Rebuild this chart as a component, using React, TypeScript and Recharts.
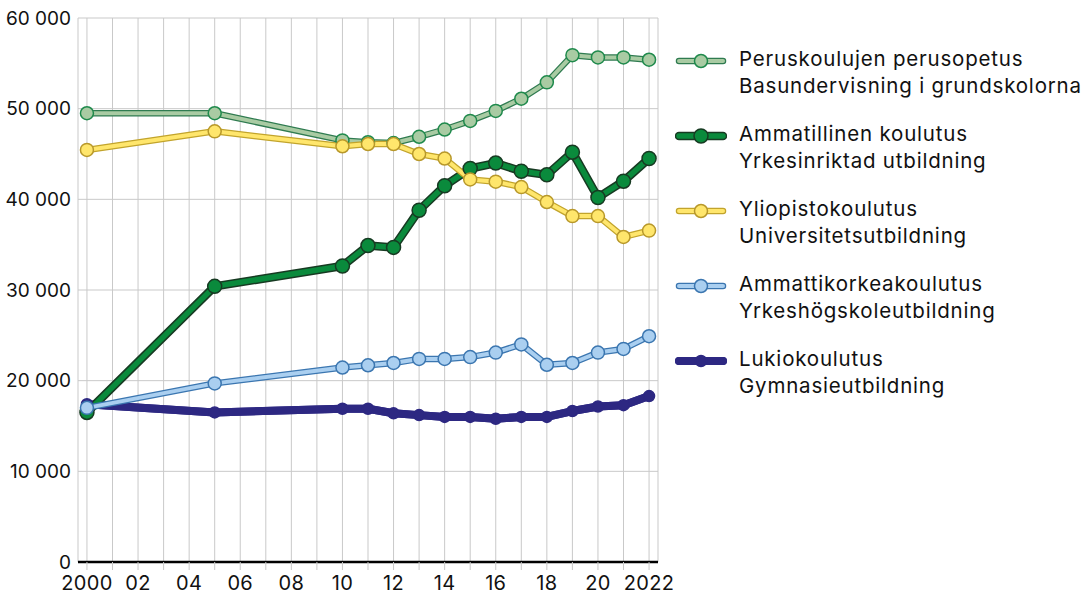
import { LineChart, Line, XAxis, YAxis, CartesianGrid } from 'recharts'

const years = [2000, 2005, 2010, 2011, 2012, 2013, 2014, 2015, 2016, 2017, 2018, 2019, 2020, 2021, 2022]

const perusopetus = [49500, 49500, 46500, 46300, 46200, 46900, 47700, 48650, 49750, 51100, 52900, 55900, 55650, 55650, 55400]
const ammatillinen = [16500, 30400, 32650, 34900, 34700, 38800, 41500, 43400, 44000, 43100, 42700, 45200, 40200, 42000, 44500]
const yliopisto = [45450, 47500, 45850, 46100, 46100, 45000, 44500, 42200, 41950, 41350, 39700, 38150, 38150, 35850, 36550]
const amk = [17000, 19700, 21450, 21700, 21950, 22400, 22400, 22600, 23100, 24000, 21750, 21950, 23100, 23500, 24900]
const lukio = [17400, 16500, 16900, 16900, 16400, 16200, 16000, 16000, 15800, 16000, 16000, 16650, 17150, 17300, 18300]

const yTicks = [0, 10000, 20000, 30000, 40000, 50000, 60000]
const xTicks = Array.from({ length: 23 }, (_, i) => 2000 + i)
const xLabels: Record<number, string> = {
  2000: '2000', 2002: '02', 2004: '04', 2006: '06', 2008: '08', 2010: '10',
  2012: '12', 2014: '14', 2016: '16', 2018: '18', 2020: '20', 2022: '2022',
}

const data = years.map((year, i) => ({
  year,
  perus: perusopetus[i],
  amm: ammatillinen[i],
  yo: yliopisto[i],
  amk: amk[i],
  lukio: lukio[i],
}))

const series = [
  { key: 'lukio', outer: '#2d2882', inner: '#2d2882', dotStroke: '#2d2882', outerW: 8, innerW: 8, r: 5.5,
    fi: 'Lukiokoulutus', sv: 'Gymnasieutbildning' },
  { key: 'amm', outer: '#173a22', inner: '#0a8a3c', dotStroke: '#173a22', outerW: 8.5, innerW: 5.5, r: 7,
    fi: 'Ammatillinen koulutus', sv: 'Yrkesinriktad utbildning' },
  { key: 'perus', outer: '#2f7b50', inner: '#a9cba3', dotStroke: '#1f8a4c', outerW: 6.5, innerW: 4, r: 6.5,
    fi: 'Peruskoulujen perusopetus', sv: 'Basundervisning i grundskolorna' },
  { key: 'yo', outer: '#c2a42c', inner: '#ffe66c', dotStroke: '#b8982a', outerW: 6.5, innerW: 4, r: 6.5,
    fi: 'Yliopistokoulutus', sv: 'Universitetsutbildning' },
  { key: 'amk', outer: '#3b76b0', inner: '#aacff0', dotStroke: '#3b76b0', outerW: 6.5, innerW: 4, r: 6.5,
    fi: 'Ammattikorkeakoulutus', sv: 'Yrkeshögskoleutbildning' },
]

const legendOrder = ['perus', 'amm', 'yo', 'amk', 'lukio']

const fmt = (v: number) => (v === 0 ? '0' : `${Math.round(v / 1000)} 000`)

function LegendIcon({ s }: { s: (typeof series)[number] }) {
  return (
    <svg width={52} height={16} style={{ display: 'block' }}>
      <line x1={4} y1={8} x2={48} y2={8} stroke={s.outer} strokeWidth={s.outerW} strokeLinecap="round" />
      <line x1={4} y1={8} x2={48} y2={8} stroke={s.inner} strokeWidth={s.innerW} strokeLinecap="round" />
      <circle cx={26} cy={8} r={s.r} fill={s.inner} stroke={s.dotStroke} strokeWidth={1.5} />
    </svg>
  )
}

export default function App() {
  return (
    <div style={{ position: 'relative', width: 1092, height: 594, fontFamily: 'Inter, "Liberation Sans", sans-serif', color: '#111' }}>
      <style>{`body{margin:0;overflow:hidden}`}</style>
      <LineChart width={690} height={594} data={data} margin={{ top: 18, right: 32, bottom: 0, left: 0 }}>
        <CartesianGrid stroke="#c9c9c9" strokeWidth={1} />
        <XAxis
          dataKey="year"
          type="number"
          domain={[1999.65, 2022.35]}
          ticks={xTicks}
          interval={0}
          tickFormatter={(v: number) => xLabels[v] ?? ''}
          tick={{ fontSize: 20, fill: '#111', letterSpacing: 0.3 }}
          axisLine={{ stroke: '#000', strokeWidth: 2.5 }}
          tickLine={{ stroke: '#c9c9c9' }}
          tickSize={8}
          tickMargin={6}
          height={32}
        />
        <YAxis
          domain={[0, 60000]}
          ticks={yTicks}
          tickFormatter={fmt}
          tick={{ fontSize: 19, fill: '#111' }}
          axisLine={false}
          tickLine={false}
          tickSize={0}
          tickMargin={7}
          width={78}
        />
        {series.flatMap((s) => [
          <Line
            key={s.key + '-o'}
            dataKey={s.key}
            stroke={s.outer}
            strokeWidth={s.outerW}
            strokeLinejoin="round"
            dot={false}
            activeDot={false}
            isAnimationActive={false}
          />,
          <Line
            key={s.key + '-i'}
            dataKey={s.key}
            stroke={s.inner}
            strokeWidth={s.innerW}
            strokeLinejoin="round"
            dot={{ r: s.r, fill: s.inner, stroke: s.dotStroke, strokeWidth: 1.5 }}
            activeDot={false}
            isAnimationActive={false}
          />,
        ])}
      </LineChart>
      <div style={{ position: 'absolute', left: 675, top: 46 }}>
        {legendOrder.map((k) => {
          const s = series.find((x) => x.key === k)!
          return (
            <div key={k} style={{ display: 'flex', alignItems: 'flex-start', height: 75 }}>
              <div style={{ marginTop: 7 }}>
                <LegendIcon s={s} />
              </div>
              <div style={{ marginLeft: 12, fontSize: 20.5, lineHeight: '26.5px', letterSpacing: 0.8 }}>
                <div>{s.fi}</div>
                <div>{s.sv}</div>
              </div>
            </div>
          )
        })}
      </div>
    </div>
  )
}
